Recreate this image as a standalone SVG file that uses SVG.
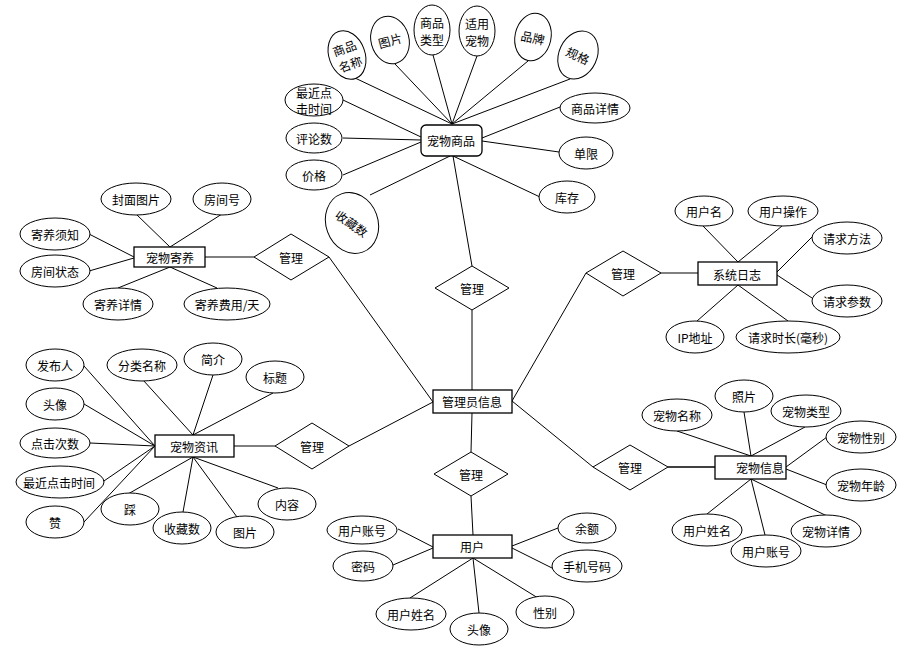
<svg xmlns="http://www.w3.org/2000/svg" width="908" height="650" viewBox="0 0 908 650">
<style>
.e{fill:#fff;stroke:#000;stroke-width:1}
.r{fill:#fff;stroke:#000;stroke-width:1.3}
.d{fill:#fff;stroke:#000;stroke-width:1}
.c line{stroke:#000;stroke-width:1}
text{font-family:"Noto Sans CJK SC","Liberation Sans",sans-serif;font-size:12px;text-anchor:middle;dominant-baseline:central;fill:#000}
</style>
<rect width="908" height="650" fill="#fff"/>
<g id="connectors" class="c">
<line x1="355" y1="78" x2="452" y2="124"/>
<line x1="395" y1="64" x2="452" y2="124"/>
<line x1="433" y1="55" x2="452" y2="124"/>
<line x1="477" y1="56" x2="452" y2="124"/>
<line x1="528" y1="61" x2="452" y2="124"/>
<line x1="570" y1="79" x2="452" y2="124"/>
<line x1="343" y1="100" x2="421" y2="137"/>
<line x1="343" y1="138" x2="421" y2="140"/>
<line x1="343" y1="175" x2="421" y2="142"/>
<line x1="560" y1="107" x2="482" y2="138"/>
<line x1="559" y1="152" x2="482" y2="141"/>
<line x1="540" y1="197" x2="453" y2="156"/>
<line x1="370" y1="195" x2="450" y2="156"/>
<line x1="453" y1="156" x2="472" y2="266"/>
<line x1="472" y1="310" x2="472" y2="390"/>
<line x1="472" y1="413" x2="471" y2="452"/>
<line x1="471" y1="496" x2="473" y2="535"/>
<line x1="329" y1="257" x2="433" y2="402"/>
<line x1="349" y1="446" x2="433" y2="402"/>
<line x1="512" y1="401" x2="586" y2="273"/>
<line x1="512" y1="401" x2="593" y2="467"/>
<line x1="661" y1="273" x2="698" y2="273"/>
<line x1="703" y1="226" x2="738" y2="262"/>
<line x1="782" y1="226" x2="738" y2="262"/>
<line x1="812" y1="237" x2="777" y2="272"/>
<line x1="812" y1="298" x2="777" y2="275"/>
<line x1="697" y1="321" x2="738" y2="285"/>
<line x1="788" y1="321" x2="738" y2="285"/>
<line x1="205" y1="257" x2="254" y2="257"/>
<line x1="136" y1="214" x2="170" y2="247"/>
<line x1="222" y1="214" x2="170" y2="247"/>
<line x1="89" y1="234" x2="134" y2="257"/>
<line x1="89" y1="271" x2="134" y2="258"/>
<line x1="118" y1="288" x2="170" y2="267"/>
<line x1="217" y1="288" x2="170" y2="267"/>
<line x1="234" y1="446" x2="275" y2="446"/>
<line x1="84" y1="366" x2="155" y2="446"/>
<line x1="143" y1="380" x2="193" y2="435"/>
<line x1="213" y1="375" x2="193" y2="435"/>
<line x1="273" y1="393" x2="193" y2="435"/>
<line x1="84" y1="404" x2="155" y2="446"/>
<line x1="90" y1="443" x2="155" y2="446"/>
<line x1="101" y1="483" x2="155" y2="446"/>
<line x1="84" y1="522" x2="155" y2="446"/>
<line x1="128" y1="494" x2="193" y2="457"/>
<line x1="183" y1="512" x2="193" y2="457"/>
<line x1="237" y1="517" x2="193" y2="457"/>
<line x1="278" y1="488" x2="193" y2="457"/>
<line x1="668" y1="467" x2="715" y2="467" style="stroke-width:1.5"/>
<line x1="677" y1="431" x2="751" y2="456"/>
<line x1="744" y1="412" x2="751" y2="456"/>
<line x1="805" y1="427" x2="751" y2="456"/>
<line x1="827" y1="437" x2="786" y2="467"/>
<line x1="827" y1="485" x2="786" y2="469"/>
<line x1="707" y1="514" x2="751" y2="479"/>
<line x1="765" y1="535" x2="751" y2="479"/>
<line x1="827" y1="516" x2="751" y2="479"/>
<line x1="398" y1="529" x2="433" y2="547"/>
<line x1="393" y1="565" x2="433" y2="548"/>
<line x1="558" y1="528" x2="512" y2="546"/>
<line x1="552" y1="568" x2="512" y2="548"/>
<line x1="410" y1="598" x2="473" y2="558"/>
<line x1="479" y1="613" x2="473" y2="558"/>
<line x1="538" y1="598" x2="473" y2="558"/>
</g>
<g id="pet-goods">
<rect class="r" x="421" y="125" width="61" height="31" rx="5"/>
<text x="451" y="140">宠物商品</text>
</g>
<g id="goods-attrs">
<g transform="rotate(-20 347 55)"><ellipse class="e" cx="347" cy="55" rx="18" ry="25"/><text x="347" y="47">商品</text><text x="347" y="64">名称</text></g>
<g transform="rotate(-15 390 40)"><ellipse class="e" cx="390" cy="40" rx="19" ry="24"/><text x="390" y="40">图片</text></g>
<ellipse class="e" cx="432" cy="30" rx="18" ry="25"/><text x="432" y="22">商品</text><text x="432" y="39">类型</text>
<ellipse class="e" cx="477" cy="31" rx="18" ry="25"/><text x="477" y="23">适用</text><text x="477" y="40">宠物</text>
<g transform="rotate(12 533 37)"><ellipse class="e" cx="533" cy="37" rx="18" ry="24"/><text x="533" y="37">品牌</text></g>
<g transform="rotate(25 578 55)"><ellipse class="e" cx="578" cy="55" rx="19" ry="25"/><text x="578" y="55">规格</text></g>
<ellipse class="e" cx="314" cy="100" rx="29" ry="16"/><text x="314" y="92">最近点</text><text x="314" y="108">击时间</text>
<ellipse class="e" cx="314" cy="138" rx="28" ry="15"/><text x="314" y="138">评论数</text>
<ellipse class="e" cx="314" cy="175" rx="28" ry="15"/><text x="314" y="175">价格</text>
<ellipse class="e" cx="595" cy="108" rx="35" ry="15"/><text x="595" y="108">商品详情</text>
<ellipse class="e" cx="586" cy="153" rx="27" ry="16"/><text x="586" y="153">单限</text>
<ellipse class="e" cx="567" cy="197" rx="28" ry="16"/><text x="567" y="197">库存</text>
<g><ellipse class="e" cx="352" cy="223" rx="26" ry="31" transform="rotate(-20 352 223)"/><text x="352" y="223" transform="rotate(35 352 223)">收藏数</text></g>
</g>
<g id="admin">
<rect class="r" x="433" y="390" width="79" height="23"/>
<text x="472" y="401">管理员信息</text>
</g>
<g id="rel-goods"><polygon class="d" points="435,288 472,266 509,288 472,310"/><text x="472" y="288">管理</text></g>
<g id="rel-user"><polygon class="d" points="434,474 471,452 508,474 471,496"/><text x="471" y="474">管理</text></g>
<g id="rel-foster"><polygon class="d" points="254,257 291,234 329,257 291,280"/><text x="291" y="257">管理</text></g>
<g id="rel-news"><polygon class="d" points="275,446 312,423 349,446 312,469"/><text x="312" y="446">管理</text></g>
<g id="rel-log"><polygon class="d" points="586,273 623,251 661,273 623,296"/><text x="623" y="273">管理</text></g>
<g id="rel-pet"><polygon class="d" points="593,467 630,445 668,467 630,490"/><text x="630" y="467">管理</text></g>
<g id="syslog">
<rect class="r" x="698" y="262" width="79" height="23"/>
<text x="737" y="274">系统日志</text>
<ellipse class="e" cx="704" cy="211" rx="29" ry="15"/><text x="704" y="211">用户名</text>
<ellipse class="e" cx="783" cy="211" rx="35" ry="15"/><text x="783" y="211">用户操作</text>
<ellipse class="e" cx="847" cy="238" rx="35" ry="16"/><text x="847" y="238">请求方法</text>
<ellipse class="e" cx="847" cy="301" rx="35" ry="16"/><text x="847" y="301">请求参数</text>
<ellipse class="e" cx="695" cy="337" rx="29" ry="16"/><text x="695" y="337">IP地址</text>
<ellipse class="e" cx="788" cy="337" rx="52" ry="16"/><text x="788" y="337">请求时长(毫秒)</text>
</g>
<g id="foster">
<rect class="r" x="134" y="247" width="71" height="20"/>
<text x="170" y="257">宠物寄养</text>
<ellipse class="e" cx="136" cy="199" rx="35" ry="16"/><text x="136" y="199">封面图片</text>
<ellipse class="e" cx="222" cy="199" rx="29" ry="16"/><text x="222" y="199">房间号</text>
<ellipse class="e" cx="55" cy="234" rx="35" ry="16"/><text x="55" y="234">寄养须知</text>
<ellipse class="e" cx="55" cy="271" rx="35" ry="16"/><text x="55" y="271">房间状态</text>
<ellipse class="e" cx="118" cy="304" rx="35" ry="16"/><text x="118" y="304">寄养详情</text>
<ellipse class="e" cx="227" cy="304" rx="43" ry="16"/><text x="227" y="304">寄养费用/天</text>
</g>
<g id="news">
<rect class="r" x="155" y="435" width="79" height="22"/>
<text x="194" y="446">宠物资讯</text>
<ellipse class="e" cx="55" cy="365" rx="29" ry="16"/><text x="55" y="365">发布人</text>
<ellipse class="e" cx="142" cy="365" rx="35" ry="16"/><text x="142" y="365">分类名称</text>
<ellipse class="e" cx="213" cy="359" rx="29" ry="16"/><text x="213" y="359">简介</text>
<ellipse class="e" cx="275" cy="377" rx="29" ry="16"/><text x="275" y="377">标题</text>
<ellipse class="e" cx="55" cy="404" rx="29" ry="16"/><text x="55" y="404">头像</text>
<ellipse class="e" cx="55" cy="443" rx="35" ry="15"/><text x="55" y="443">点击次数</text>
<ellipse class="e" cx="60" cy="482" rx="44" ry="16"/><text x="59" y="482">最近点击时间</text>
<ellipse class="e" cx="55" cy="522" rx="29" ry="16"/><text x="55" y="522">赞</text>
<ellipse class="e" cx="130" cy="509" rx="29" ry="16"/><text x="130" y="509">踩</text>
<ellipse class="e" cx="182" cy="528" rx="29" ry="16"/><text x="182" y="528">收藏数</text>
<ellipse class="e" cx="245" cy="532" rx="29" ry="16"/><text x="245" y="532">图片</text>
<ellipse class="e" cx="287" cy="504" rx="29" ry="16"/><text x="287" y="504">内容</text>
</g>
<g id="pet">
<rect class="r" x="715" y="456" width="71" height="23"/>
<text x="760" y="467">宠物信息</text>
<ellipse class="e" cx="677" cy="415" rx="35" ry="16"/><text x="677" y="415">宠物名称</text>
<ellipse class="e" cx="744" cy="396" rx="29" ry="16"/><text x="744" y="396">照片</text>
<ellipse class="e" cx="806" cy="411" rx="35" ry="16"/><text x="806" y="411">宠物类型</text>
<ellipse class="e" cx="861" cy="437" rx="35" ry="16"/><text x="861" y="437">宠物性别</text>
<ellipse class="e" cx="861" cy="485" rx="35" ry="16"/><text x="861" y="485">宠物年龄</text>
<ellipse class="e" cx="707" cy="530" rx="35" ry="16"/><text x="707" y="530">用户姓名</text>
<ellipse class="e" cx="766" cy="551" rx="35" ry="16"/><text x="766" y="551">用户账号</text>
<ellipse class="e" cx="826" cy="531" rx="35" ry="16"/><text x="826" y="531">宠物详情</text>
</g>
<g id="user">
<rect class="r" x="433" y="535" width="79" height="23"/>
<text x="472" y="546">用户</text>
<ellipse class="e" cx="362" cy="530" rx="35" ry="14"/><text x="362" y="530">用户账号</text>
<ellipse class="e" cx="363" cy="566" rx="30" ry="15"/><text x="363" y="566">密码</text>
<ellipse class="e" cx="587" cy="528" rx="29" ry="15"/><text x="587" y="528">余额</text>
<ellipse class="e" cx="587" cy="566" rx="35" ry="16"/><text x="587" y="566">手机号码</text>
<ellipse class="e" cx="411" cy="614" rx="35" ry="16"/><text x="411" y="614">用户姓名</text>
<ellipse class="e" cx="479" cy="629" rx="29" ry="16"/><text x="479" y="629">头像</text>
<ellipse class="e" cx="545" cy="612" rx="29" ry="16"/><text x="545" y="612">性别</text>
</g>
</svg>
